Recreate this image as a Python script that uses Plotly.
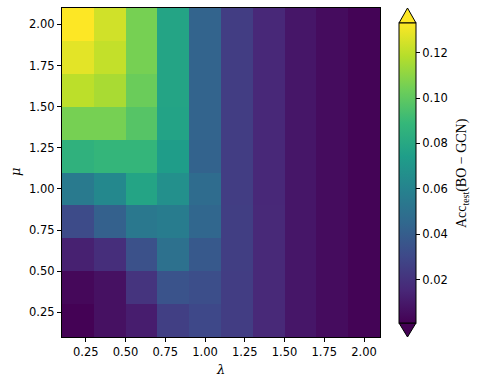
import plotly.graph_objects as go

lambdas = [0.2, 0.4, 0.6, 0.8, 1.0, 1.2, 1.4, 1.6, 1.8, 2.0]
mus = [0.2, 0.4, 0.6, 0.8, 1.0, 1.2, 1.4, 1.6, 1.8, 2.0]

# rows: mu from 0.2 (bottom) to 2.0 (top); columns: lambda 0.2 .. 2.0
acc_mu_020 = [0.0015, 0.0069, 0.0116, 0.0260, 0.0300, 0.0250, 0.0160, 0.0090, 0.0050, 0.0020]
acc_mu_040 = [0.0036, 0.0069, 0.0208, 0.0353, 0.0327, 0.0250, 0.0160, 0.0090, 0.0050, 0.0020]
acc_mu_060 = [0.0129, 0.0182, 0.0340, 0.0498, 0.0380, 0.0255, 0.0160, 0.0090, 0.0050, 0.0020]
acc_mu_080 = [0.0314, 0.0419, 0.0538, 0.0564, 0.0446, 0.0255, 0.0160, 0.0090, 0.0050, 0.0020]
acc_mu_100 = [0.0551, 0.0630, 0.0776, 0.0670, 0.0472, 0.0250, 0.0155, 0.0090, 0.0050, 0.0020]
acc_mu_120 = [0.0855, 0.0881, 0.0881, 0.0736, 0.0425, 0.0250, 0.0155, 0.0090, 0.0050, 0.0020]
acc_mu_140 = [0.1053, 0.1053, 0.0974, 0.0770, 0.0432, 0.0250, 0.0155, 0.0090, 0.0050, 0.0020]
acc_mu_160 = [0.1198, 0.1158, 0.1026, 0.0776, 0.0432, 0.0250, 0.0155, 0.0090, 0.0050, 0.0020]
acc_mu_180 = [0.1277, 0.1211, 0.1053, 0.0776, 0.0432, 0.0250, 0.0155, 0.0090, 0.0050, 0.0020]
acc_mu_200 = [0.1350, 0.1238, 0.1053, 0.0776, 0.0432, 0.0250, 0.0155, 0.0090, 0.0050, 0.0020]

z = [acc_mu_020, acc_mu_040, acc_mu_060, acc_mu_080, acc_mu_100,
     acc_mu_120, acc_mu_140, acc_mu_160, acc_mu_180, acc_mu_200]

tick_vals = [0.25, 0.5, 0.75, 1.0, 1.25, 1.5, 1.75, 2.0]
tick_text = ["0.25", "0.50", "0.75", "1.00", "1.25", "1.50", "1.75", "2.00"]
cbar_vals = [0.02, 0.04, 0.06, 0.08, 0.10, 0.12]
cbar_text = ["0.02", "0.04", "0.06", "0.08", "0.10", "0.12"]

W, H = 478, 385
L, R, T, B = 62, 98, 8, 48
pw, ph = W - L - R, H - T - B

def px(x):
    return (x - L) / pw

def py(y):
    return (H - B - y) / ph

cb_left, cb_right = 399, 416
cb_top, cb_bot = 23, 323

tick_font = dict(family="DejaVu Sans", size=11.5, color="black")

fig = go.Figure(go.Heatmap(
    x=lambdas, y=mus, z=z,
    colorscale="Viridis", zmin=0.001, zmax=0.133,
    colorbar=dict(
        x=px(cb_left), xanchor="left", xpad=0, ypad=0,
        y=py((cb_top + cb_bot) / 2), yanchor="middle",
        len=(cb_bot - cb_top) / ph, lenmode="fraction",
        thickness=cb_right - cb_left, thicknessmode="pixels",
        outlinewidth=1, outlinecolor="black",
        tickvals=cbar_vals, ticktext=cbar_text,
        ticks="outside", ticklen=4, tickwidth=1, tickcolor="black",
        tickfont=tick_font,
    ),
))

fig.update_layout(
    width=W, height=H,
    margin=dict(l=L, r=R, t=T, b=B, pad=0),
    paper_bgcolor="white", plot_bgcolor="white",
    xaxis=dict(range=[0.1, 2.1], tickvals=tick_vals, ticktext=tick_text,
               ticks="outside", ticklen=4, tickwidth=1, tickcolor="black",
               showline=True, linecolor="black", linewidth=1.2, mirror=True,
               showgrid=False, zeroline=False, tickfont=tick_font, layer="above traces"),
    yaxis=dict(range=[0.1, 2.1], tickvals=tick_vals, ticktext=tick_text,
               ticks="outside", ticklen=4, tickwidth=1, tickcolor="black",
               showline=True, linecolor="black", linewidth=1.2, mirror=True,
               showgrid=False, zeroline=False, tickfont=tick_font, layer="above traces"),
    annotations=[
        dict(text="<i>λ</i>", xref="paper", yref="paper", x=px(220), y=py(369),
             xanchor="center", yanchor="middle",
             showarrow=False, font=dict(family="DejaVu Serif", size=13, color="black")),
        dict(text="<i>μ</i>", xref="paper", yref="paper", x=px(15), y=py(172),
             xanchor="center", yanchor="middle",
             showarrow=False, textangle=-90,
             font=dict(family="DejaVu Serif", size=13, color="black")),
        dict(text="Acc<sub>test</sub>(BO − GCN)", xref="paper", yref="paper",
             x=px(462), y=py(173), xanchor="center", yanchor="middle",
             showarrow=False, textangle=-90,
             font=dict(family="Liberation Serif", size=14, color="black")),
    ],
    shapes=[
        dict(type="path", xref="paper", yref="paper",
             path=f"M {px(cb_left)},{py(cb_top)} L {px(cb_right)},{py(cb_top)} L {px((cb_left+cb_right)/2)},{py(8)} Z",
             fillcolor="#fde725", line=dict(color="black", width=1)),
        dict(type="path", xref="paper", yref="paper",
             path=f"M {px(cb_left)},{py(cb_bot)} L {px(cb_right)},{py(cb_bot)} L {px((cb_left+cb_right)/2)},{py(337)} Z",
             fillcolor="#440154", line=dict(color="black", width=1)),
    ],
)

fig.write_html("out.html")
